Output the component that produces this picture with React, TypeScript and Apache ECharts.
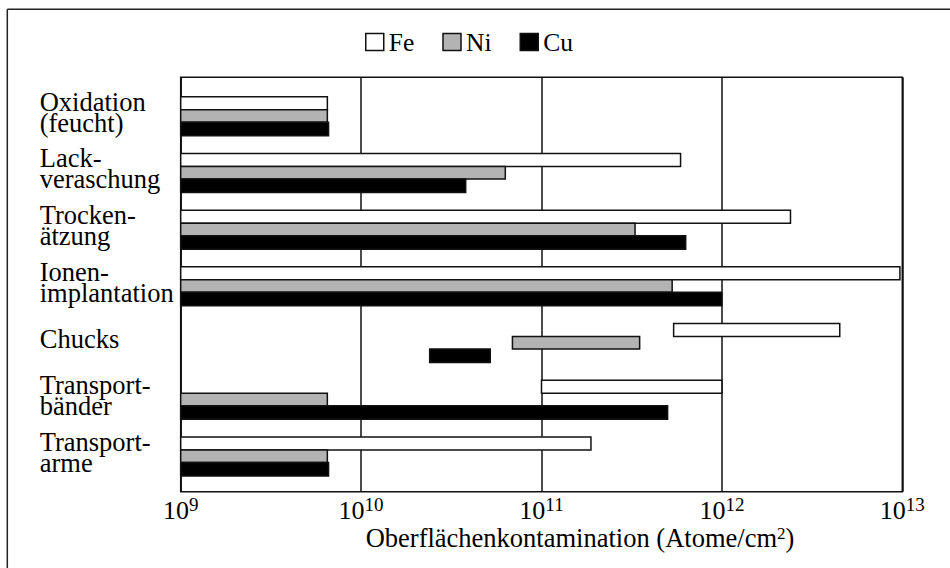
import React, { useEffect, useRef } from "react";
import * as echarts from "echarts";

const categories = [
  "Oxidation\n(feucht)",
  "Lack-\nveraschung",
  "Trocken-\nätzung",
  "Ionen-\nimplantation",
  "Chucks",
  "Transport-\nbänder",
  "Transport-\narme",
];

const seriesNames = ["Fe", "Ni", "Cu"];

// [start, end] contamination ranges in atoms/cm^2
const feRanges = [
  [1e9, 6.5e9],
  [1e9, 5.9e11],
  [1e9, 2.4e12],
  [1e9, 9.7e12],
  [5.4e11, 4.5e12],
  [1e11, 1e12],
  [1e9, 1.88e11],
];
const niRanges = [
  [1e9, 6.5e9],
  [1e9, 6.3e10],
  [1e9, 3.3e11],
  [1e9, 5.3e11],
  [6.9e10, 3.5e11],
  [1e9, 6.5e9],
  [1e9, 6.5e9],
];
const cuRanges = [
  [1e9, 6.6e9],
  [1e9, 3.8e10],
  [1e9, 6.3e11],
  [1e9, 1e12],
  [2.4e10, 5.2e10],
  [1e9, 5e11],
  [1e9, 6.6e9],
];

const FONT = "Liberation Serif";
const fills = ["#ffffff", "#b3b3b3", "#000000"];
const SHIFT = 4;
const barLayout = [
  { dy: -19.5 + SHIFT, h: 13 },
  { dy: -6.5 + SHIFT, h: 12.5 },
  { dy: 6 + SHIFT, h: 13.5 },
];

export default function App() {
  const ref = useRef<HTMLDivElement>(null);
  useEffect(() => {
    if (!ref.current) return;
    const chart = echarts.init(ref.current, null, { renderer: "svg" });
    const allRanges = [feRanges, niRanges, cuRanges];
    const series = allRanges.map((ranges, s) => ({
      name: seriesNames[s],
      type: "custom",
      xAxisIndex: 1,
      yAxisIndex: 1,
      encode: { x: [1, 2], y: 0 },
      itemStyle: { color: fills[s], borderColor: "#111", borderWidth: 1.5 },
      data: ranges.map((r, i) => [i, r[0], r[1]]),
      renderItem: (params: any, api: any) => {
        const c0 = api.coord([api.value(1), api.value(0)]);
        const c1 = api.coord([api.value(2), api.value(0)]);
        const { dy, h } = barLayout[s];
        return {
          type: "rect",
          shape: { x: c0[0], y: c0[1] + dy, width: c1[0] - c0[0], height: h },
          style: { fill: fills[s], stroke: "#111", lineWidth: 1.5 },
        };
      },
    }));

    const option: any = {
      animation: false,
      backgroundColor: "#fff",
      textStyle: { fontFamily: FONT },
      legend: {
        left: 360,
        top: 24,
        itemWidth: 18,
        itemHeight: 17,
        itemGap: 28,
        icon: "rect",
        textStyle: { fontFamily: FONT, fontSize: 25.5, color: "#000" },
        data: seriesNames.map((n, s) => ({
          name: n,
          itemStyle: { color: fills[s], borderColor: "#111", borderWidth: 1.5 },
        })),
      },
      graphic: [
        {
          type: "line",
          shape: { x1: 7.3, y1: 9.3, x2: 950, y2: 9.3 },
          style: { stroke: "#222", lineWidth: 1.5 },
        },
        {
          type: "line",
          shape: { x1: 7.3, y1: 9.3, x2: 7.3, y2: 568 },
          style: { stroke: "#222", lineWidth: 1.5 },
        },
      ],
      grid: [
        {
          left: 180.7,
          top: 77.3,
          width: 721.6,
          height: 414.4,
          show: true,
          borderColor: "#111",
          borderWidth: 1.5,
          backgroundColor: "transparent",
        },
        { left: 180.7, top: 87.84 - SHIFT, width: 721.6, height: 397.04, show: false },
      ],
      xAxis: [
        {
          type: "log",
          logBase: 10,
          min: 1e9,
          max: 1e13,
          gridIndex: 0,
          axisLine: { show: false },
          axisTick: { show: false },
          splitLine: { show: true, lineStyle: { color: "#111", width: 1.5 } },
          axisLabel: {
            margin: 3,
            fontFamily: FONT,
            formatter: (v: number) => "{base|10}{sup|" + Math.round(Math.log10(v)) + "}",
            rich: {
              base: { fontFamily: FONT, fontSize: 26, lineHeight: 28.5, verticalAlign: "bottom", color: "#000" },
              sup: { fontFamily: FONT, fontSize: 19, verticalAlign: "top", color: "#000" },
            },
          },
          name: "{base|Oberflächenkontamination (Atome/cm}{sup|2}{base|)}",
          nameLocation: "middle",
          nameGap: 33,
          nameMoveOverlap: false,
          nameTextStyle: {
            fontFamily: FONT,
            fontSize: 26.5,
            color: "#000",
            padding: [0, 0, 0, 77],
            rich: {
              base: { fontFamily: FONT, fontSize: 26.5, lineHeight: 27.25, verticalAlign: "bottom", color: "#000" },
              sup: { fontFamily: FONT, fontSize: 17, verticalAlign: "top", color: "#000" },
            },
          },
        },
        {
          type: "log",
          logBase: 10,
          min: 1e9,
          max: 1e13,
          gridIndex: 1,
          show: false,
        },
      ],
      yAxis: [
        { type: "value", gridIndex: 0, show: false, splitLine: { show: false } },
        {
          type: "category",
          gridIndex: 1,
          data: categories,
          inverse: true,
          axisLine: { show: false },
          axisTick: { show: false },
          splitLine: { show: false },
          axisLabel: {
            interval: 0,
            align: "left",
            margin: 141,
            fontFamily: FONT,
            fontSize: 26.5,
            lineHeight: 21,
            color: "#000",
            padding: [0, 0, 15, 0],
          },
        },
      ],
      series,
    };
    chart.setOption(option);
    return () => chart.dispose();
  }, []);
  return (
    <div
      ref={ref}
      style={{ position: "absolute", left: 0, top: 0, width: 950, height: 568 }}
    />
  );
}
